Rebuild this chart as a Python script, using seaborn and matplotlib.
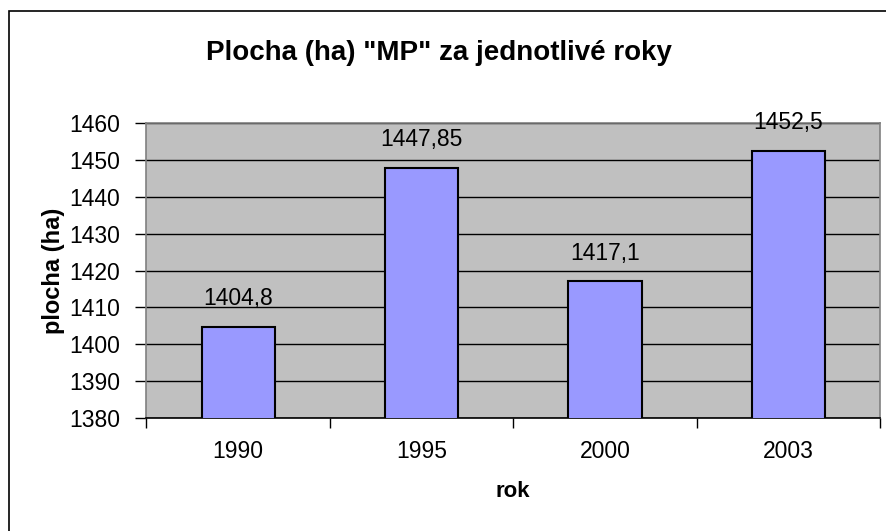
import matplotlib
matplotlib.use("Agg")
import matplotlib.pyplot as plt
import seaborn as sns
from matplotlib.ticker import FixedLocator, MultipleLocator
from matplotlib.patches import Rectangle

# data
years = ["1990", "1995", "2000", "2003"]
areas = [1404.8, 1447.85, 1417.1, 1452.5]
area_labels = ["1404,8", "1447,85", "1417,1", "1452,5"]

sns.set_theme(style="white")
plt.rcParams['font.family'] = ['Liberation Sans', 'DejaVu Sans']

fig = plt.figure(figsize=(8.87, 5.31), dpi=100)
ax = fig.add_axes([146.5 / 887, 113 / 531, (880 - 146.5) / 887, (418 - 123) / 531])

ax.set_facecolor('#C0C0C0')
sns.barplot(x=years, y=areas, color='#9999FF', saturation=1, edgecolor='black',
            linewidth=1.5, width=0.4, ax=ax, zorder=3)

ax.set_ylim(1380, 1460)
ax.set_xlim(-0.5, 3.5)
ax.yaxis.set_major_locator(MultipleLocator(10))
ax.grid(axis='y', color='black', linewidth=1, zorder=1)
ax.set_axisbelow(True)

# ticks on category boundaries, labels in middle
ax.xaxis.set_minor_locator(FixedLocator([-0.5, 0.5, 1.5, 2.5, 3.5]))
ax.tick_params(axis='x', which='major', length=0, pad=16, labelsize=16.5, colors='black')
ax.tick_params(axis='x', which='minor', length=7, width=1, direction='out', color='black', bottom=True)
ax.tick_params(axis='y', length=8, width=1, direction='out', pad=11, labelsize=16.5,
               colors='black', left=True)

for s in ['top', 'right', 'left']:
    ax.spines[s].set_color('#808080')
    ax.spines[s].set_linewidth(1.2)
ax.spines['bottom'].set_color('black')
ax.spines['bottom'].set_linewidth(1.2)

for i, (v, lab) in enumerate(zip(areas, area_labels)):
    ax.annotate(lab, (i, v), xytext=(0, 12), textcoords='offset points',
                ha='center', va='bottom', fontsize=16.5, color='black',
                annotation_clip=False, zorder=5)

ax.set_xlabel('rok', fontsize=16, fontweight='bold', labelpad=13, color='black')
ax.set_ylabel('plocha (ha)', fontsize=17, fontweight='bold', labelpad=3, color='black')

fig.text(438.5 / 887, 1 - 60 / 531, 'Plocha (ha) "MP" za jednotlivé roky', ha='center',
         va='baseline', fontsize=20, fontweight='bold', color='black')

# outer chart frame (right/bottom lie outside the image)
fig.patches.append(Rectangle((9 / 887, -0.1), 1.2, 1 - 11 / 531 + 0.1, transform=fig.transFigure,
                             fill=False, edgecolor='black', linewidth=1.2))

plt.savefig('out.png', dpi=100)
